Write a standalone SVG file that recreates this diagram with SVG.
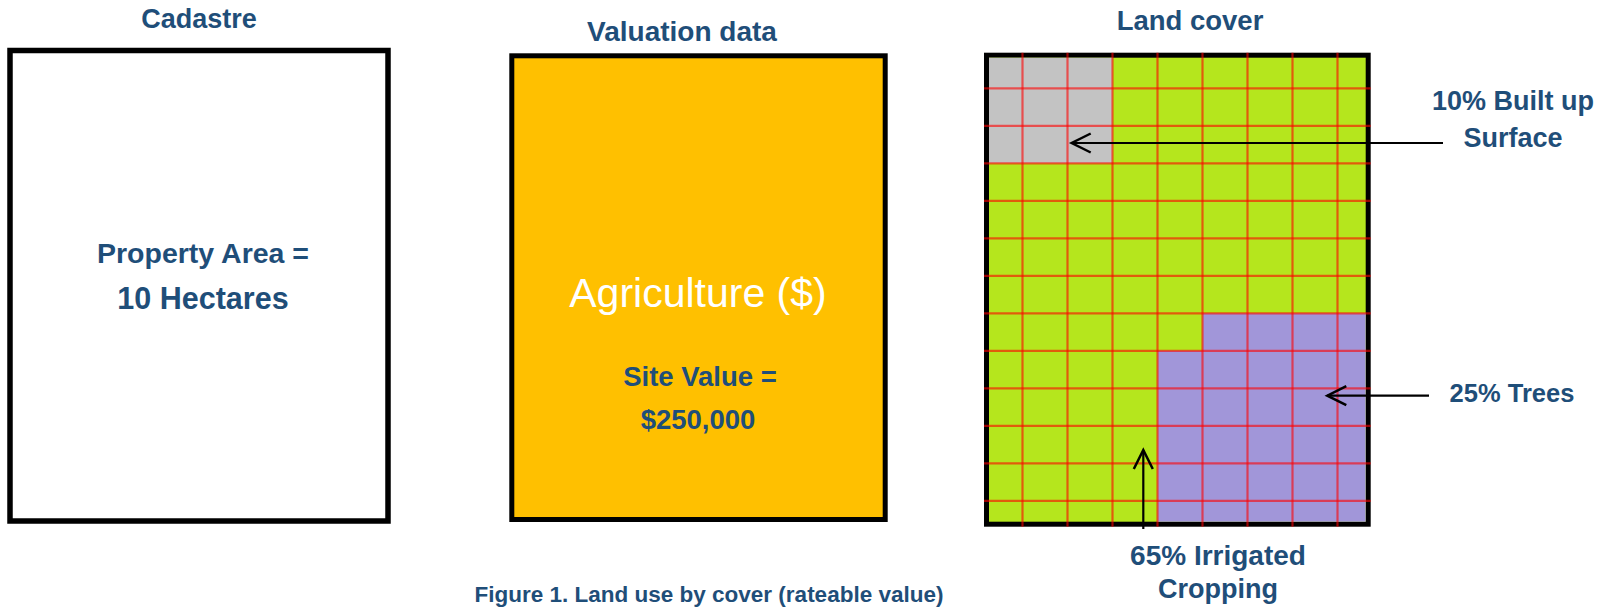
<svg xmlns="http://www.w3.org/2000/svg" width="1612" height="612" viewBox="0 0 1612 612">
<style>
  .title { font-family: "Liberation Sans", Arial, sans-serif; font-weight: bold; fill: #1F4E79; text-anchor: middle; }
  .lbl { font-family: "Liberation Sans", Arial, sans-serif; font-weight: bold; fill: #1F4E79; text-anchor: middle; }
  .grid line { stroke: #ff0000; stroke-opacity: 0.6; stroke-width: 2.2; }
  .conn { stroke: #000; stroke-width: 2.2; fill: none; marker-end: url(#open); }
</style>
<defs>
  <marker id="open" markerUnits="userSpaceOnUse" viewBox="-22 -12 24 24" refX="0" refY="0" markerWidth="24" markerHeight="24" orient="auto" overflow="visible">
    <path d="M-19,-9.5 L0,0 L-19,9.5" fill="none" stroke="#000" stroke-width="2.5"/>
  </marker>
</defs>
<rect width="1612" height="612" fill="#fff"/>

<g id="cadastre">
  <text class="title" x="199" y="28" font-size="27">Cadastre</text>
  <rect x="10" y="50.5" width="378" height="470.5" fill="#fff" stroke="#000" stroke-width="5.5"/>
  <text class="lbl" x="203" y="263" font-size="28.5">Property Area =</text>
  <text class="lbl" x="203" y="309" font-size="30.5">10 Hectares</text>
</g>

<g id="valuation">
  <text class="title" x="682" y="40.5" font-size="28">Valuation data</text>
  <rect x="511.8" y="55.8" width="373.4" height="463.7" fill="#FFC000" stroke="#000" stroke-width="5"/>
  <text x="698" y="307" font-family="Liberation Sans, Arial, sans-serif" font-size="41" fill="#fff" text-anchor="middle">Agriculture ($)</text>
  <text class="lbl" x="700" y="386" font-size="27.5">Site Value =</text>
  <text class="lbl" x="698" y="429" font-size="27.5">$250,000</text>
</g>

<g id="landcover">
  <text class="title" x="1190" y="30" font-size="27.5">Land cover</text>
  <rect x="986.5" y="55.2" width="381.7" height="469" fill="#B5E61D" stroke="#000" stroke-width="5"/>
  <rect x="989" y="57.7" width="123.5" height="105.6" fill="#C3C3C3"/>
  <path d="M1202.5,313.3 H1365.7 V521.7 H1157.5 V350.8 H1202.5 Z" fill="#A196D9"/>
  <g class="grid">
    <line x1="1022.5" y1="52.7" x2="1022.5" y2="526.7"/>
    <line x1="1067.5" y1="52.7" x2="1067.5" y2="526.7"/>
    <line x1="1112.5" y1="52.7" x2="1112.5" y2="526.7"/>
    <line x1="1157.5" y1="52.7" x2="1157.5" y2="526.7"/>
    <line x1="1202.5" y1="52.7" x2="1202.5" y2="526.7"/>
    <line x1="1247.5" y1="52.7" x2="1247.5" y2="526.7"/>
    <line x1="1292.5" y1="52.7" x2="1292.5" y2="526.7"/>
    <line x1="1337.5" y1="52.7" x2="1337.5" y2="526.7"/>
    <line x1="984" y1="88.3" x2="1370.7" y2="88.3"/>
    <line x1="984" y1="125.8" x2="1370.7" y2="125.8"/>
    <line x1="984" y1="163.3" x2="1370.7" y2="163.3"/>
    <line x1="984" y1="200.8" x2="1370.7" y2="200.8"/>
    <line x1="984" y1="238.3" x2="1370.7" y2="238.3"/>
    <line x1="984" y1="275.8" x2="1370.7" y2="275.8"/>
    <line x1="984" y1="313.3" x2="1370.7" y2="313.3"/>
    <line x1="984" y1="350.8" x2="1370.7" y2="350.8"/>
    <line x1="984" y1="388.3" x2="1370.7" y2="388.3"/>
    <line x1="984" y1="425.8" x2="1370.7" y2="425.8"/>
    <line x1="984" y1="463.3" x2="1370.7" y2="463.3"/>
    <line x1="984" y1="500.8" x2="1370.7" y2="500.8"/>
  </g>
</g>

<g id="builtup">
  <text class="lbl" x="1513" y="110" font-size="27">10% Built up</text>
  <text class="lbl" x="1513" y="147" font-size="27">Surface</text>
</g>
<g id="trees">
  <text class="lbl" x="1512" y="402" font-size="25.5">25% Trees</text>
</g>
<g id="irrigated">
  <text class="lbl" x="1218" y="565" font-size="28">65% Irrigated</text>
  <text class="lbl" x="1218" y="598" font-size="27">Cropping</text>
</g>

<g id="connectors">
  <line class="conn" x1="1443" y1="143" x2="1071.7" y2="143"/>
  <line class="conn" x1="1429" y1="395.7" x2="1327.3" y2="395.7"/>
  <line class="conn" x1="1143.3" y1="529" x2="1143.3" y2="450"/>
</g>

<g id="caption">
  <text class="lbl" x="709" y="602" font-size="22.5">Figure 1. Land use by cover (rateable value)</text>
</g>
</svg>
